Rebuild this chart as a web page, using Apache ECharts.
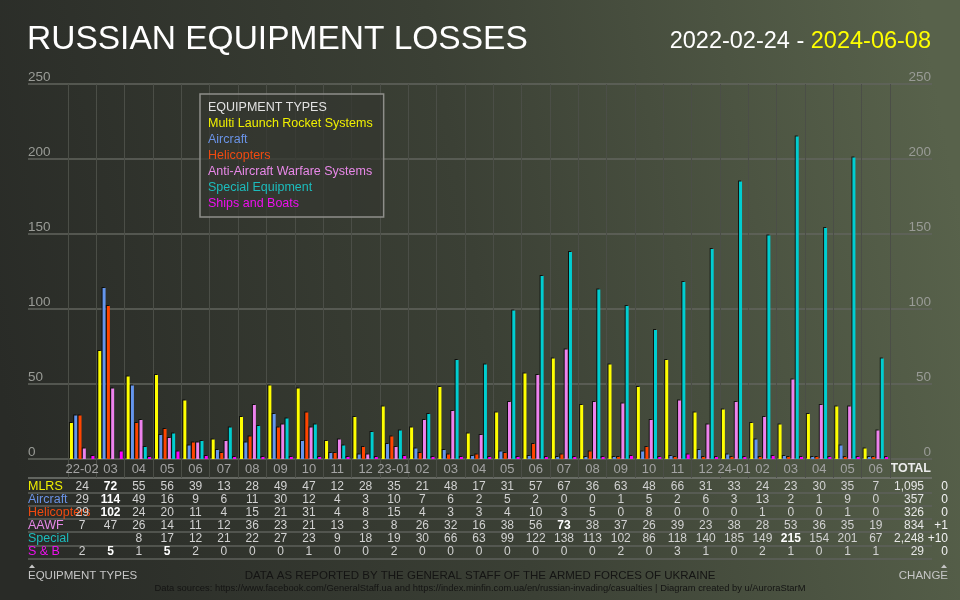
<!DOCTYPE html>
<html>
<head>
<meta charset="utf-8">
<script src="https://cdn.jsdelivr.net/npm/echarts@6/dist/echarts.min.js"></script>
<style>
  html, body { margin: 0; padding: 0; }
  #container { width: 960px; height: 600px; }
</style>
</head>
<body>
<div id="container"></div>
<script>
// months from 2022-02 to 2024-06
var months = ['22-02','03','04','05','06','07','08','09','10','11','12','23-01','02','03','04','05','06','07','08','09','10','11','12','24-01','02','03','04','05','06'];

var mlrs        = [24,72,55,56,39,13,28,49,47,12,28,35,21,48,17,31,57,67,36,63,48,66,31,33,24,23,30,35,7];
var aircraft    = [29,114,49,16,9,6,11,30,12,4,3,10,7,6,2,5,2,0,0,1,5,2,6,3,13,2,1,9,0];
var helicopters = [29,102,24,20,11,4,15,21,31,4,8,15,4,3,3,4,10,3,5,0,8,0,0,0,1,0,0,1,0];
var aawf        = [7,47,26,14,11,12,36,23,21,13,3,8,26,32,16,38,56,73,38,37,26,39,23,38,28,53,36,35,19];
var special     = [null,null,8,17,12,21,22,27,23,9,18,19,30,66,63,99,122,138,113,102,86,118,140,185,149,215,154,201,67];
var shipsBoats  = [2,5,1,5,2,0,0,0,1,0,0,2,0,0,0,0,0,0,0,2,0,3,1,0,2,1,0,1,1];

var seriesNames = ['Multi Launch Rocket Systems','Aircraft','Helicopters','Anti-Aircraft Warfare Systems','Special Equipment','Ships and Boats'];
var rowNames = ['MLRS','Aircraft','Helicopters','AAWF','Special','S & B'];
var totals  = ['1,095','357','326','834','2,248','29'];
var changes = ['0','0','0','+1','+10','0'];

var allData = [mlrs, aircraft, helicopters, aawf, special, shipsBoats];
var barColors  = ['#ffff00','#6495ed','#ff4500','#ee82ee','#00ced1','#ff00ff'];
var textColors = ['#f0f000','#6a93e6','#f04a10','#e888e8','#1cbcbc','#ee10ee'];

var dom = document.getElementById('container');
var myChart = echarts.init(dom);

// layout
var zeroY = 459;
var rowY = [487, 500, 513, 526, 539, 552];
var tableLines = [478, 493, 506, 519, 532, 546, 559];
var font = 'Liberation Sans, Arial, sans-serif';

var xAxes = [
    { gridIndex: 0, type: 'value', show: false },
    {
        gridIndex: 1,
        type: 'category',
        data: months,
        position: 'bottom',
        axisLine: { show: false },
        axisTick: { show: true, length: 19, lineStyle: { color: '#4b4e47', width: 1 } },
        splitLine: { show: true, lineStyle: { color: '#4b4e47', width: 1 } },
        axisLabel: { interval: 0, margin: 10, verticalAlign: 'middle', color: '#a3a3a3', fontSize: 13, fontFamily: font }
    }
];

// one category axis per table row, shifted down under the plot
allData.forEach(function (vals, k) {
    var max = Math.max.apply(null, vals.filter(function (v) { return v !== null; }));
    xAxes.push({
        gridIndex: 1,
        type: 'category',
        data: vals.map(function (v) { return v === null ? '' : String(v); }),
        position: 'bottom',
        offset: rowY[k] - zeroY,
        axisLine: { show: false },
        axisTick: { show: false },
        splitLine: { show: false },
        axisLabel: {
            interval: 0, margin: 0, verticalAlign: 'middle',
            color: '#d2d2d2', fontSize: 12, fontFamily: font,
            formatter: function (v, i) {
                return vals[i] === max ? '{b|' + v + '}' : v;
            },
            rich: { b: { fontWeight: 'bold', color: '#ffffff', fontSize: 12, fontFamily: font } }
        }
    });
});

var series = allData.map(function (vals, k) {
    return {
        name: seriesNames[k],
        type: 'bar',
        xAxisIndex: 1,
        yAxisIndex: 2,
        data: vals,
        barWidth: 3,
        barGap: '43%',
        barMinHeight: 2,
        itemStyle: { color: barColors[k], shadowColor: 'rgba(0,0,0,0.75)', shadowOffsetX: -1, shadowOffsetY: -1 }
    };
});

var graphic = [
    { type: 'text', left: 27, top: 23, style: { text: 'RUSSIAN EQUIPMENT LOSSES', fill: '#ffffff', font: '33.5px ' + font } },
    { type: 'text', right: 29, top: 30, style: {
        text: '{w|2022-02-24 - }{y|2024-06-08}',
        rich: { w: { fill: '#ffffff', fontSize: 23.5, fontFamily: font }, y: { fill: '#ffff00', fontSize: 23.5, fontFamily: font } }
    } },
    { type: 'text', left: 208, top: 101, z: 100, style: { text: 'EQUIPMENT TYPES', fill: '#e2e2e2', font: '12.5px ' + font } },
    { type: 'text', right: 29, top: 462, style: { text: 'TOTAL', fill: '#ececec', font: 'bold 12.5px ' + font } },
    { type: 'text', left: 28, top: 570, style: { text: 'EQUIPMENT TYPES', fill: '#c6c6c6', font: '11.5px ' + font } },
    { type: 'polygon', shape: { points: [[29, 568], [32, 564.5], [35, 568]] }, style: { fill: '#c6c6c6' } },
    { type: 'text', right: 12, top: 570, style: { text: 'CHANGE', fill: '#c6c6c6', font: '11.5px ' + font } },
    { type: 'polygon', shape: { points: [[941, 568], [944, 564.5], [947, 568]] }, style: { fill: '#c6c6c6' } },
    { type: 'text', x: 480, y: 576, style: { text: 'DATA AS REPORTED BY THE GENERAL STAFF OF THE ARMED FORCES OF UKRAINE', fill: '#141413', font: '11.5px ' + font, align: 'center', verticalAlign: 'middle' } },
    { type: 'text', x: 480, y: 588, style: { text: 'Data sources: https://www.facebook.com/GeneralStaff.ua and https://index.minfin.com.ua/en/russian-invading/casualties | Diagram created by u/AuroraStarM', fill: '#141413', font: '9.4px ' + font, align: 'center', verticalAlign: 'middle' } }
];

tableLines.forEach(function (y, i) {
    graphic.push({ type: 'line', shape: { x1: 28, y1: y, x2: 932, y2: y },
        style: { stroke: i === 0 ? '#767873' : '#5e605b', lineWidth: 1.5 } });
});

rowNames.forEach(function (name, k) {
    graphic.push({ type: 'text', x: 28, y: rowY[k], style: { text: name, fill: textColors[k], font: '12.5px ' + font, verticalAlign: 'middle' } });
    graphic.push({ type: 'text', x: 924, y: rowY[k], style: { text: totals[k], fill: '#e6e6e6', font: '12px ' + font, align: 'right', verticalAlign: 'middle' } });
    graphic.push({ type: 'text', x: 948, y: rowY[k], style: { text: changes[k], fill: '#f2f2f2', font: '12px ' + font, align: 'right', verticalAlign: 'middle' } });
});

var option = {
    backgroundColor: {
        type: 'linear', x: 0, y: 0.65, x2: 1, y2: 0.35,
        colorStops: [
            { offset: 0, color: '#292b27' },
            { offset: 0.5, color: '#3b4035' },
            { offset: 1, color: '#58624b' }
        ]
    },
    textStyle: { fontFamily: font },
    animation: false,
    legend: {
        left: 200, top: 94,
        orient: 'vertical',
        icon: 'none',
        itemWidth: 0, itemHeight: 16, itemGap: 0,
        padding: [22, 11, 5, 3],
        backgroundColor: 'rgba(52,55,48,0.75)',
        borderColor: '#8e8e8a', borderWidth: 1.5,
        selectedMode: false,
        textStyle: { fontSize: 12.5, lineHeight: 16, fontFamily: font },
        data: seriesNames.map(function (n, k) { return { name: n, textStyle: { color: textColors[k] } }; })
    },
    grid: [
        { left: 28, right: 28, top: 84, bottom: 600 - zeroY },
        { left: 68, right: 70, top: 84, bottom: 600 - zeroY }
    ],
    xAxis: xAxes,
    yAxis: [
        {
            gridIndex: 0, type: 'value', min: 0, max: 250, interval: 50, position: 'left',
            axisLine: { show: false }, axisTick: { show: false },
            splitLine: { lineStyle: { color: '#62655e', width: 1.5 } },
            axisLabel: { inside: true, margin: 0, align: 'left', verticalAlign: 'bottom', color: '#999b96', fontSize: 13.5 }
        },
        {
            gridIndex: 0, type: 'value', min: 0, max: 250, interval: 50, position: 'right',
            axisLine: { show: false }, axisTick: { show: false }, splitLine: { show: false },
            axisLabel: { inside: true, margin: 1, align: 'right', verticalAlign: 'bottom', color: '#999b96', fontSize: 13.5 }
        },
        { gridIndex: 1, type: 'value', min: 0, max: 250, show: false }
    ],
    graphic: graphic,
    series: series
};

myChart.setOption(option);
</script>
</body>
</html>
